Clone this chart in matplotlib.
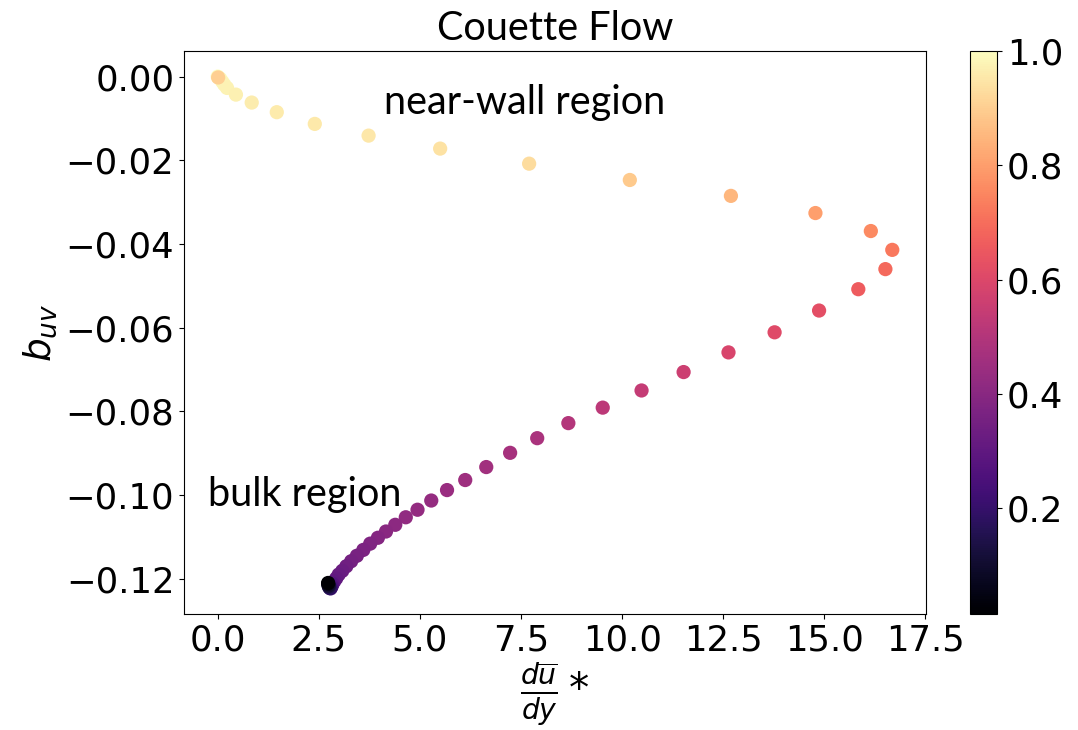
import matplotlib
matplotlib.use("Agg")
import matplotlib.pyplot as plt

# strain rate (du/dy)* and anisotropy b_uv, coloured by U/U_w
dudy = [0.00, 0.06, 0.11, 0.16, 0.23, 0.45, 0.84, 1.46, 2.40, 3.73, 5.50, 7.70,
        10.19, 12.69, 14.78, 16.15, 16.68, 16.51, 15.84, 14.87, 13.77, 12.63,
        11.52, 10.48, 9.52, 8.67, 7.90, 7.23, 6.64, 6.12, 5.67, 5.28, 4.94,
        4.65, 4.39, 4.16, 3.96, 3.77, 3.60, 3.44, 3.30, 3.18, 3.08, 2.99, 2.93,
        2.88, 2.84, 2.82, 2.80, 2.79, 2.77, 2.75, 2.74, 2.73, 2.73, 0.01]
b_uv = [0.0, -0.0005, -0.0012, -0.0019, -0.0027, -0.0043, -0.0062, -0.0085,
        -0.0113, -0.0141, -0.0172, -0.0208, -0.0247, -0.0285, -0.0326, -0.0369,
        -0.0414, -0.0460, -0.0508, -0.0559, -0.0611, -0.0659, -0.0706, -0.0750,
        -0.0791, -0.0828, -0.0864, -0.0899, -0.0933, -0.0964, -0.0988, -0.1013,
        -0.1035, -0.1053, -0.1071, -0.1087, -0.1102, -0.1116, -0.1131, -0.1145,
        -0.1158, -0.1170, -0.1181, -0.1190, -0.1199, -0.1206, -0.1212, -0.1217,
        -0.1220, -0.1223, -0.1222, -0.1219, -0.1216, -0.1212, -0.1210, -0.0002]
u_ratio = [1.0, 0.99, 0.985, 0.98, 0.975, 0.97, 0.965, 0.96, 0.955, 0.95, 0.94,
           0.93, 0.89, 0.85, 0.80, 0.76, 0.72, 0.69, 0.66, 0.62, 0.61, 0.59,
           0.56, 0.54, 0.52, 0.50, 0.48, 0.47, 0.46, 0.45, 0.44, 0.43, 0.425,
           0.42, 0.41, 0.40, 0.39, 0.38, 0.37, 0.36, 0.35, 0.34, 0.33, 0.32,
           0.31, 0.30, 0.28, 0.26, 0.24, 0.21, 0.18, 0.14, 0.10, 0.06, 0.015,
           0.90]

plt.rcParams["font.family"] = "DejaVu Sans"
plt.rcParams["mathtext.fontset"] = "dejavusans"
plt.rcParams["font.size"] = 25.5

fig = plt.figure(figsize=(10.78, 7.3), dpi=100)
ax = fig.add_axes([0.1707, 0.1589, 0.6883, 0.7712])
cax = fig.add_axes([0.8998, 0.1589, 0.025, 0.7712])

sc = ax.scatter(dudy, b_uv, c=u_ratio, cmap="magma", s=105, edgecolors="none")
cb = fig.colorbar(sc, cax=cax)
cb.set_ticks([0.2, 0.4, 0.6, 0.8, 1.0])

ax.set_xticks([0, 2.5, 5, 7.5, 10, 12.5, 15, 17.5])
ax.set_yticks([0.0, -0.02, -0.04, -0.06, -0.08, -0.10, -0.12])

ax.set_title("Couette Flow", family="Lato", fontsize=28.5, pad=8)
ax.set_xlabel(r"$\frac{d\overline{u}}{dy}*$", fontsize=29, labelpad=2)
ax.set_ylabel(r"$b_{uv}$", fontsize=27, labelpad=5)

ax.text(4.1, -0.0062, "near-wall region", family="Lato", fontsize=28.5,
        va="center")
ax.text(-0.25, -0.0999, "bulk region", family="Lato", fontsize=28.5,
        va="center")

fig.savefig("out.png", dpi=100)
